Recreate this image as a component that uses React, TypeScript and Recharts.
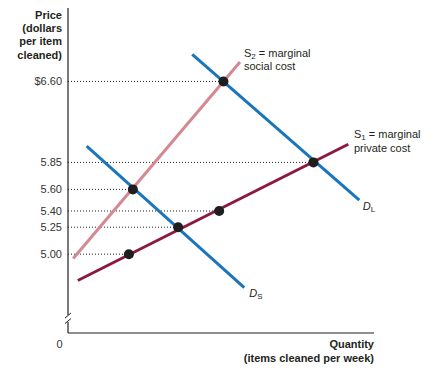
import { ComposedChart, Line, Scatter, XAxis, YAxis, ReferenceLine } from "recharts";

const priceTicks = [5.0, 5.25, 5.4, 5.6, 5.85, 6.6];

// supply and demand lines (quantity in arbitrary units 0-100)
const s1Line = [
  { q: 3.2, p: 4.756 },
  { q: 91.6, p: 6.018 },
];
const s2Line = [
  { q: 1.7, p: 4.96 },
  { q: 56.2, p: 6.78 },
];
const dlLine = [
  { q: 40.6, p: 6.85 },
  { q: 95.2, p: 5.5 },
];
const dsLine = [
  { q: 6.1, p: 6.0 },
  { q: 57.6, p: 4.69 },
];

const points = [
  { q: 19.9, p: 5.0 },
  { q: 36.0, p: 5.25 },
  { q: 49.4, p: 5.4 },
  { q: 80.2, p: 5.85 },
  { q: 21.2, p: 5.6 },
  { q: 50.8, p: 6.6 },
];

const font = '"Liberation Sans", Arial, sans-serif';
const ink = "#231f20";

function Dot(props: any) {
  return <circle cx={props.cx} cy={props.cy} r={5} fill="#1e1e1e" />;
}

export default function App() {
  return (
    <div style={{ position: "relative", width: 425, height: 368, fontFamily: font }}>
      <ComposedChart width={425} height={368} margin={{ top: 0, right: 59, bottom: 0, left: 0 }}>
        <XAxis
          type="number"
          dataKey="q"
          domain={[0, 100]}
          tick={false}
          tickLine={false}
          height={43}
          axisLine={{ stroke: ink, strokeWidth: 1.2 }}
          allowDataOverflow
        />
        <YAxis
          type="number"
          dataKey="p"
          domain={[4.27, 7.28]}
          ticks={priceTicks}
          interval={0}
          width={60}
          tickLine={false}
          tickMargin={0}
          axisLine={{ stroke: ink, strokeWidth: 1.2 }}
          tick={{ fill: "#333", fontSize: 11, fontFamily: font }}
          tickFormatter={(v: number) => (v === 6.6 ? "$6.60" : v.toFixed(2))}
          allowDataOverflow
        />
        {points.map((pt, i) => (
          <ReferenceLine
            key={i}
            segment={[
              { x: 0, y: pt.p },
              { x: pt.q, y: pt.p },
            ]}
            stroke="#222"
            strokeWidth={1}
            strokeDasharray="1 2"
          />
        ))}
        <Line data={s2Line} dataKey="p" stroke="#d48891" strokeWidth={3} dot={false} isAnimationActive={false} />
        <Line data={s1Line} dataKey="p" stroke="#8c1a40" strokeWidth={3} dot={false} isAnimationActive={false} />
        <Line data={dlLine} dataKey="p" stroke="#1b75bb" strokeWidth={3} dot={false} isAnimationActive={false} />
        <Line data={dsLine} dataKey="p" stroke="#1b75bb" strokeWidth={3} dot={false} isAnimationActive={false} />
        <Scatter data={points} dataKey="p" shape={Dot} isAnimationActive={false} />
      </ComposedChart>
      <svg
        width={425}
        height={368}
        style={{ position: "absolute", left: 0, top: 0, pointerEvents: "none" }}
        fontFamily={font}
        fontSize={11}
        fill={ink}
      >
        <g fontWeight="bold" textAnchor="end">
          <text x={54} y={10.5}>Price</text>
          <text x={54} y={24}>(dollars</text>
          <text x={54} y={37.3}>per item</text>
          <text x={54} y={50.5}>cleaned)</text>
          <text x={366} y={340}>Quantity</text>
          <text x={366} y={353.7}>(items cleaned per week)</text>
        </g>
        <text x={51.5} y={340} textAnchor="middle" fill="#333">0</text>

        <text x={236} y={48.7}>
          S<tspan fontSize={8} dy={2}>2</tspan>
          <tspan dy={-2}> = marginal</tspan>
        </text>
        <text x={236} y={61.5}>social cost</text>

        <text x={346} y={130.3}>
          S<tspan fontSize={8} dy={2}>1</tspan>
          <tspan dy={-2}> = marginal</tspan>
        </text>
        <text x={346} y={143.5}>private cost</text>

        <text x={354.7} y={202}>
          <tspan fontStyle="italic">D</tspan>
          <tspan fontSize={8} dy={2}>L</tspan>
        </text>
        <text x={241.3} y={288.7}>
          <tspan fontStyle="italic">D</tspan>
          <tspan fontSize={8} dy={2}>S</tspan>
        </text>

        {/* axis break */}
        <rect x={56} y={307} width={8} height={7} fill="#fff" />
        <line x1={57} y1={310} x2={63} y2={305} stroke={ink} strokeWidth={1} />
        <line x1={57} y1={315.5} x2={63} y2={310.5} stroke={ink} strokeWidth={1} />
      </svg>
    </div>
  );
}
